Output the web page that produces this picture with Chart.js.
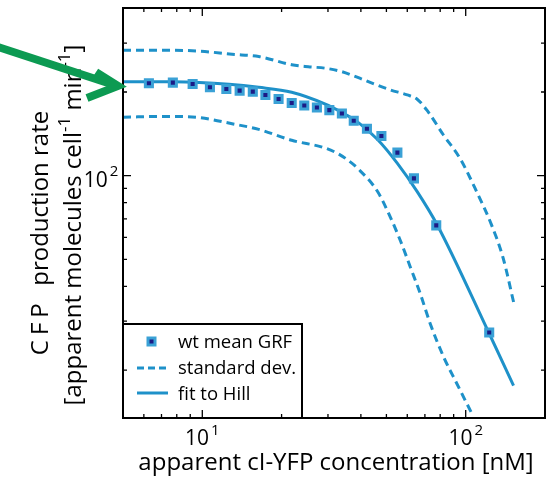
<!DOCTYPE html>
<html>
<head>
<meta charset="utf-8">
<script src="https://cdn.jsdelivr.net/npm/chart.js@4.4.1/dist/chart.umd.min.js"></script>
<style>
  html, body { margin: 0; background: #fff; }
  #wrap { width: 553px; height: 477px; }
</style>
</head>
<body>
<div id="wrap"><canvas id="grf"></canvas></div>
<script>
// wt mean GRF (concentration in nM, rate in molecules/cell/min)
var meanX = [6.27, 7.73, 9.19, 10.69, 12.34, 13.86, 15.55, 17.36, 19.48, 21.85, 24.39, 27.23, 30.36, 33.88, 37.58, 42.17, 47.86, 55.04, 63.6, 77.3, 122.8];
var meanY = [214.9, 216.1, 213.6, 207.9, 205.0, 202.3, 200.6, 195.1, 188.8, 182.7, 178.8, 175.9, 172.1, 167.5, 157.6, 147.6, 139.0, 121.1, 97.8, 66.3, 27.3];

// Hill fit
var fitX = [5.0, 7.71, 12.63, 16.38, 21.85, 29.17, 33.69, 38.93, 46.28, 55.04, 65.44, 77.8, 122.3, 151.9];
var fitY = [217.9, 217.6, 213.1, 207.9, 199.5, 181.2, 169.3, 155.9, 135.0, 110.8, 87.7, 66.8, 27.3, 17.6];

// standard deviation, upper and lower
var sdHiX = [5.0, 7.32, 9.74, 12.97, 16.38, 21.85, 25.26, 29.17, 33.69, 38.93, 44.98, 51.94, 60.0, 65.44, 71.36, 82.45, 95.2, 110, 125.2, 138.6, 153.2];
var sdHiY = [282.5, 282.5, 280.6, 273.4, 268.3, 250.6, 246.5, 243.7, 237.1, 225.7, 213.6, 203.3, 195.2, 188.4, 171.7, 139.8, 115.3, 87.7, 66.7, 50.7, 34.0];
var sdLoX = [5.0, 7.32, 9.74, 12.97, 16.38, 21.85, 29.17, 32.73, 35.69, 38.93, 46.28, 51.94, 56.62, 61.75, 67.33, 73.4, 82.45, 92.5, 105.3];
var sdLoY = [162.4, 163.4, 161.8, 153.8, 146.8, 134.1, 125.9, 120.1, 113.8, 106.2, 87.7, 70.4, 58.1, 46.7, 37.5, 29.3, 22.3, 17.9, 14.0];

// labelled ticks (powers of ten)
var xTickVals = [10, 100];
var xTickPow = ['1', '2'];
var yTickVals = [100];
var yTickPow = ['2'];

var legendLabels = ['wt mean GRF', 'standard dev.', 'fit to Hill'];

var lineBlue = '#1e91c9';
var markBlue = '#3aa1d6';
var markNavy = '#1b1b86';
var arrowGreen = '#0c9a52';
var fontFam = '"Open Sans", sans-serif';

function toPoints(xs, ys) {
    return xs.map(function (x, i) { return {x: x, y: ys[i]}; });
}

// small helper: "10" with raised exponent
function drawPow(ctx, cx, baseY, base, pow, size) {
    ctx.font = size + 'px ' + fontFam;
    var wb = ctx.measureText(base).width;
    ctx.font = Math.round(size * 0.72) + 'px ' + fontFam;
    var wp = ctx.measureText(pow).width;
    var x0 = cx - (wb + wp + 2) / 2;
    ctx.font = size + 'px ' + fontFam;
    ctx.fillText(base, x0, baseY);
    ctx.font = Math.round(size * 0.72) + 'px ' + fontFam;
    ctx.fillText(pow, x0 + wb + 2, baseY - size * 0.5);
}

// draws a run of [text, isSuper, spacing] pieces, centred on cx
function drawRuns(ctx, runs, cx, baseY, size) {
    var w = 0;
    runs.forEach(function (r) {
        ctx.font = (r[1] ? Math.round(size * 0.7) : size) + 'px ' + fontFam;
        ctx.letterSpacing = (r[2] || 0) + 'px';
        w += ctx.measureText(r[0]).width;
    });
    var x = cx - w / 2;
    runs.forEach(function (r) {
        ctx.font = (r[1] ? Math.round(size * 0.7) : size) + 'px ' + fontFam;
        ctx.letterSpacing = (r[2] || 0) + 'px';
        ctx.fillText(r[0], x, r[1] ? baseY - size * 0.45 : baseY);
        x += ctx.measureText(r[0]).width;
    });
    ctx.letterSpacing = '0px';
}

var framePlugin = {
    id: 'frame',
    afterDraw: function (chart) {
        var ctx = chart.ctx;
        var a = chart.chartArea;
        var xs = chart.scales.x;
        var ys = chart.scales.y;
        ctx.save();
        ctx.fillStyle = '#000';
        ctx.strokeStyle = '#000';
        ctx.textBaseline = 'alphabetic';
        ctx.textAlign = 'left';

        // legend box
        var lx = a.left, ly = a.bottom - 94, lw = 179, lh = 94;
        ctx.fillStyle = '#fff';
        ctx.fillRect(lx, ly, lw, lh);
        ctx.lineWidth = 2;
        ctx.strokeRect(lx, ly, lw, lh);
        // marker sample
        ctx.fillStyle = markNavy;
        ctx.strokeStyle = markBlue;
        ctx.lineWidth = 3;
        ctx.fillRect(lx + 25, ly + 14, 7, 7);
        ctx.strokeRect(lx + 25, ly + 14, 7, 7);
        // line samples
        ctx.strokeStyle = lineBlue;
        ctx.lineWidth = 3;
        ctx.setLineDash([7, 4]);
        ctx.beginPath(); ctx.moveTo(lx + 14, ly + 44); ctx.lineTo(lx + 45, ly + 44); ctx.stroke();
        ctx.setLineDash([]);
        ctx.beginPath(); ctx.moveTo(lx + 14, ly + 69); ctx.lineTo(lx + 45, ly + 69); ctx.stroke();
        ctx.fillStyle = '#000';
        ctx.font = '18.5px ' + fontFam;
        legendLabels.forEach(function (t, i) {
            ctx.fillText(t, lx + 55, ly + 24 + i * 26);
        });

        // axes box
        ctx.strokeStyle = '#000';
        ctx.lineWidth = 2;
        ctx.strokeRect(a.left, a.top, a.right - a.left, a.bottom - a.top);

        // inward ticks on all four sides
        ctx.lineWidth = 1.3;
        ctx.beginPath();
        for (var d = 1; d <= 100; d *= 10) {
            for (var m = 1; m < 10; m++) {
                var v = d * m;
                if (v > xs.min && v < xs.max) {
                    var px = xs.getPixelForValue(v);
                    var len = m === 1 ? 8 : 4;
                    ctx.moveTo(px, a.bottom); ctx.lineTo(px, a.bottom - len);
                    ctx.moveTo(px, a.top); ctx.lineTo(px, a.top + len);
                }
                if (v > ys.min && v < ys.max) {
                    var py = ys.getPixelForValue(v);
                    var ln = m === 1 ? 8 : 4;
                    ctx.moveTo(a.left, py); ctx.lineTo(a.left + ln, py);
                    ctx.moveTo(a.right, py); ctx.lineTo(a.right - ln, py);
                }
            }
        }
        ctx.stroke();

        // tick labels
        xTickVals.forEach(function (v, i) {
            drawPow(ctx, xs.getPixelForValue(v), a.bottom + 27, '10', xTickPow[i], 21);
        });
        yTickVals.forEach(function (v, i) {
            drawPow(ctx, a.left - 22, ys.getPixelForValue(v) + 11, '10', yTickPow[i], 21);
        });

        // axis titles
        drawRuns(ctx, [['apparent cI-YFP concentration [nM]', false]], 336, a.bottom + 52, 24);
        ctx.save();
        ctx.translate(48, 233);
        ctx.rotate(-Math.PI / 2);
        drawRuns(ctx, [['CFP', false, 5], ['  production rate', false]], 0, 0, 24);
        ctx.restore();
        ctx.save();
        ctx.translate(81, 225);
        ctx.rotate(-Math.PI / 2);
        drawRuns(ctx, [['[apparent molecules cell', false], ['-1', true], [' min', false], ['-1', true], [']', false]], 0, 0, 24);
        ctx.restore();

        // green arrow pointing at the plateau
        var tx = a.left - 5, ty = a.top + 78;
        ctx.strokeStyle = arrowGreen;
        ctx.lineWidth = 8;
        ctx.lineJoin = 'miter';
        ctx.beginPath();
        ctx.moveTo(-5, ty - 40);
        ctx.lineTo(tx - 4, ty - 1);
        ctx.stroke();
        ctx.beginPath();
        ctx.moveTo(tx - 22, ty - 14);
        ctx.lineTo(tx, ty);
        ctx.lineTo(tx - 31, ty + 12);
        ctx.stroke();
        ctx.restore();
    }
};

var ctx = document.getElementById('grf');
new Chart(ctx, {
    type: 'scatter',
    data: {
        datasets: [
            {
                label: 'wt mean GRF',
                data: toPoints(meanX, meanY),
                pointStyle: 'rect',
                pointRadius: 5,
                pointBorderWidth: 3,
                pointBackgroundColor: markNavy,
                pointBorderColor: markBlue,
                showLine: false
            },
            {
                label: 'fit to Hill',
                data: toPoints(fitX, fitY),
                showLine: true,
                borderColor: lineBlue,
                borderWidth: 3,
                pointRadius: 0,
                cubicInterpolationMode: 'monotone'
            },
            {
                label: 'standard dev.',
                data: toPoints(sdHiX, sdHiY),
                showLine: true,
                borderColor: lineBlue,
                borderWidth: 3,
                borderDash: [8, 5],
                pointRadius: 0,
                cubicInterpolationMode: 'monotone'
            },
            {
                label: 'standard dev. low',
                data: toPoints(sdLoX, sdLoY),
                showLine: true,
                borderColor: lineBlue,
                borderWidth: 3,
                borderDash: [8, 5],
                pointRadius: 0,
                cubicInterpolationMode: 'monotone'
            }
        ]
    },
    options: {
        responsive: true,
        maintainAspectRatio: false,
        animation: false,
        layout: {padding: {left: 123, right: 4, top: 5, bottom: 59}},
        plugins: {legend: {display: false}, tooltip: {enabled: false}},
        scales: {
            x: {
                type: 'logarithmic', min: 5, max: 200,
                grid: {display: false}, border: {display: false},
                ticks: {display: false},
                afterFit: function (s) { s.height = 0; }
            },
            y: {
                type: 'logarithmic', min: 13.45, max: 401,
                grid: {display: false}, border: {display: false},
                ticks: {display: false},
                afterFit: function (s) { s.width = 0; }
            }
        }
    },
    plugins: [framePlugin]
});
</script>
</body>
</html>
